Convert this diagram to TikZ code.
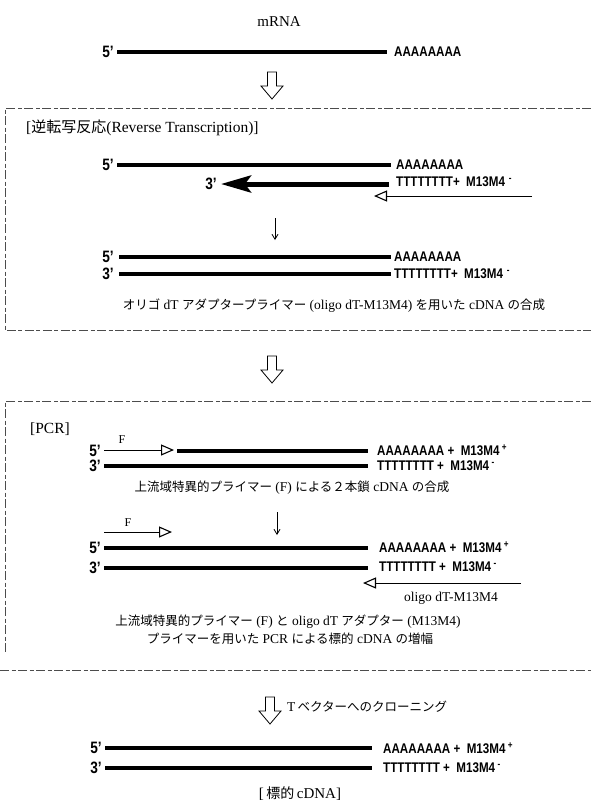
\documentclass[tikz,border=0pt]{standalone}
\usepackage{fontspec}
\usetikzlibrary{arrows.meta}
\setmainfont{Liberation Serif}
\newfontfamily\jp{Noto Sans CJK JP}
\newfontfamily\cond[FakeStretch=0.83]{Liberation Sans}
\newcommand\J[1]{{\jp\fontsize{12.5}{14}\selectfont #1}}
\begin{document}
\begin{tikzpicture}[x=1pt,y=-1pt,
  strand/.style={line width=4.2pt},
  lab/.style={font=\cond\bfseries\fontsize{14}{14}\selectfont, inner sep=0pt, anchor=west},
  endlab/.style={font=\cond\bfseries\fontsize{16.5}{16}\selectfont, inner sep=0pt, anchor=east},
  txt/.style={font=\fontsize{13.5}{16}\selectfont, inner sep=0pt, align=center},
  frame/.style={black!70, line width=0.6pt, dash pattern=on 9pt off 2.5pt on 4pt off 2.5pt},
  primer/.style={line width=0.9pt, -{Triangle[open,length=13pt,width=11pt,line width=1.1pt]}},
  smallarr/.style={line width=0.8pt, -{Straight Barb[length=5pt,width=6pt]}},
  pics/bigarrow/.style={code={
    \draw[line width=0.8pt, fill=white] (-4.5,0)--(4.5,0)--(4.5,14)--(11,14)--(0,27)--(-11,14)--(-4.5,14)--cycle;}}
]
\useasboundingbox (0,0) rectangle (591,804);

% ---------- mRNA ----------
\node[txt, font=\fontsize{15}{17}\selectfont] (mrna) at (279,22) {mRNA};
\node[endlab] (m5) at (114,52) {5’};
\node[lab] (mA) at (394,52) {AAAAAAAA};
\coordinate (m1) at (117,52); \coordinate (m2) at (387,52);
\draw[strand] (m1) -- (m2);
\pic at (272,72) {bigarrow};

% ---------- Box 1 ----------
\draw[frame] (591,108) -- (5,108) -- (5,330) -- (591,330);
\node[txt, anchor=west, font=\fontsize{15.5}{17}\selectfont] (rt) at (26,128) {[{\jp\fontsize{15}{17}\selectfont 逆転写反応}(Reverse Transcription)]};

\node[endlab] (r5) at (114,165) {5’};
\node[lab] (rA) at (396,165) {AAAAAAAA};
\coordinate (r1) at (117,165); \coordinate (r2) at (391,165);
\draw[strand] (r1) -- (r2);

\node[endlab] (r3) at (217,184) {3’};
\coordinate (c1) at (389,184); \coordinate (c2) at (221,184);
\draw[line width=5pt, -{Stealth[length=30pt,width=17pt,inset=6pt]}] (c1) -- (c2);
\node[lab] (rT) at (396,182) {TTTTTTTT+\ \ M13M4\,\textsuperscript{\,-}};
\coordinate (o1) at (532,196); \coordinate (o2) at (374,196);
\draw[primer] (o1) -- (o2);

\coordinate (s1) at (275,218); \coordinate (s2) at (275,240);
\draw[smallarr] (s1) -- (s2);

\node[endlab] (b5) at (114,257) {5’};
\node[lab] (bA) at (394,257) {AAAAAAAA};
\coordinate (b1) at (119,257); \coordinate (b2) at (391,257);
\draw[strand] (b1) -- (b2);
\node[endlab] (b3) at (114,274) {3’};
\node[lab] (bT) at (394,274) {TTTTTTTT+\ \ M13M4\,\textsuperscript{\,-}};
\coordinate (b3a) at (119,274); \coordinate (b3b) at (391,274);
\draw[strand] (b3a) -- (b3b);

\node[txt] (cap1) at (334,306) {\J{オリゴ} dT \J{アダプタープライマー} (oligo dT-M13M4) \J{を用いた} cDNA \J{の合成}};

\pic at (272,356) {bigarrow};

% ---------- Box 2 ----------
\draw[frame] (591,401) -- (5,401) -- (5,652);
\node[txt, anchor=west, font=\fontsize{15.5}{17}\selectfont] (pcr) at (30,429) {[PCR]};

\node[endlab] (p5) at (101,451) {5’};
\coordinate (f1) at (104,450); \coordinate (f2) at (174,450);
\draw[primer] (f1) -- (f2);
\node[txt, font=\fontsize{12}{13}\selectfont] (fl) at (122,440) {F};
\coordinate (p1) at (177,451); \coordinate (p2) at (368,451);
\draw[strand] (p1) -- (p2);
\node[lab] (pA) at (377,450) {AAAAAAAA\ +\ \ M13M4\,\textsuperscript{+}};
\node[endlab] (p3) at (101,466) {3’};
\coordinate (q1) at (104,466); \coordinate (q2) at (368,466);
\draw[strand] (q1) -- (q2);
\node[lab] (pT) at (377,466) {TTTTTTTT\ +\ \ M13M4\,\textsuperscript{-}};

\node[txt] (cap2) at (292,488) {\J{上流域特異的プライマー} (F) \J{による２本鎖} cDNA \J{の合成}};

\coordinate (t1) at (277,512); \coordinate (t2) at (277,535);
\draw[smallarr] (t1) -- (t2);

\node[txt, font=\fontsize{12}{13}\selectfont] (fl2) at (128,523) {F};
\coordinate (g1) at (104,532); \coordinate (g2) at (172,532);
\draw[primer] (g1) -- (g2);

\node[endlab] (d5) at (101,548) {5’};
\coordinate (d1) at (104,548); \coordinate (d2) at (368,548);
\draw[strand] (d1) -- (d2);
\node[lab] (dA) at (379,547) {AAAAAAAA\ +\ \ M13M4\,\textsuperscript{+}};
\node[endlab] (d3) at (101,568) {3’};
\coordinate (e1) at (104,568); \coordinate (e2) at (368,568);
\draw[strand] (e1) -- (e2);
\node[lab] (dT) at (379,567) {TTTTTTTT\ +\ \ M13M4\,\textsuperscript{-}};

\coordinate (h1) at (521,583); \coordinate (h2) at (363,583);
\draw[primer] (h1) -- (h2);
\node[txt] (olig) at (451,598) {oligo dT-M13M4};

\node[txt] (cap3) at (288,622) {\J{上流域特異的プライマー} (F) \J{と} oligo dT \J{アダプター} (M13M4)};
\node[txt] (cap4) at (290,639) {\J{プライマーを用いた} PCR \J{による標的} cDNA \J{の増幅}};

\draw[frame] (0,670) -- (591,670);

% ---------- cloning ----------
\pic at (270,697) {bigarrow};
\node[txt, anchor=west] (clon) at (287,707) {T\,\J{ベクターへのクローニング}};

\node[endlab] (z5) at (102,748) {5’};
\coordinate (z1) at (105,748); \coordinate (z2) at (372,748);
\draw[strand] (z1) -- (z2);
\node[lab] (zA) at (383,748) {AAAAAAAA\ +\ \ M13M4\,\textsuperscript{+}};
\node[endlab] (z3) at (102,768) {3’};
\coordinate (y1) at (105,768); \coordinate (y2) at (372,768);
\draw[strand] (y1) -- (y2);
\node[lab] (zT) at (383,768) {TTTTTTTT\ +\ \ M13M4\,\textsuperscript{-}};

\node[txt, font=\fontsize{15}{17}\selectfont] (tgt) at (300,794) {[\,{\jp\fontsize{14}{16}\selectfont 標的}\,cDNA]};
\end{tikzpicture}
\end{document}
